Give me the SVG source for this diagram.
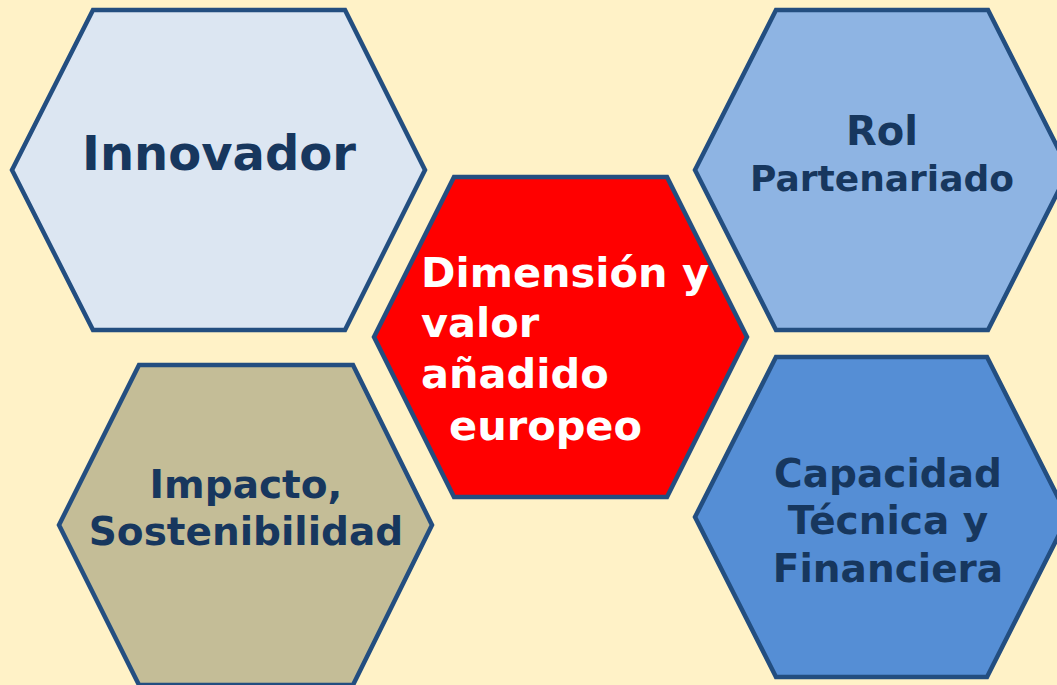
<svg xmlns="http://www.w3.org/2000/svg" width="1057" height="685" viewBox="0 0 1057 685">
<style>
.hex{stroke:#234E80;stroke-width:4.5;stroke-linejoin:miter}
.t{font-family:"DejaVu Sans","Verdana",sans-serif;font-weight:bold;fill:#17375E;text-anchor:middle}
.w{font-family:"DejaVu Sans","Verdana",sans-serif;font-weight:bold;fill:#FFFFFF}
</style>
<rect width="1057" height="685" fill="#FFF2C7"/>
<g id="innovador">
<polygon class="hex" fill="#DCE6F2" points="12,170 93,10 345,10 425,170 345,330 93,330"/>
<text class="t" x="219" y="170" font-size="48">Innovador</text>
</g>
<g id="rol">
<polygon class="hex" fill="#8EB4E3" points="695,170 776,10 988,10 1069,170 988,330 776,330"/>
<text class="t" x="882" y="145" font-size="40">Rol</text>
<text class="t" x="882" y="191" font-size="36">Partenariado</text>
</g>
<g id="dimension">
<polygon class="hex" fill="#FF0000" points="374,337 454,177 667,177 747,337 667,497 454,497"/>
<text class="w" font-size="41.5"><tspan x="421" y="287">Dimensión y</tspan><tspan x="421" y="337">valor</tspan><tspan x="421" y="388">añadido</tspan><tspan x="449" y="440">europeo</tspan></text>
</g>
<g id="impacto">
<polygon class="hex" fill="#C4BD97" points="59,525 139,365 353,365 432,525 353,685 139,685"/>
<text class="t" x="246" y="498" font-size="39">Impacto,</text>
<text class="t" x="246" y="545" font-size="39">Sostenibilidad</text>
</g>
<g id="capacidad">
<polygon class="hex" fill="#558ED5" points="695,517 776,357 987,357 1068,517 987,677 776,677"/>
<text class="t" x="888" y="487" font-size="39">Capacidad</text>
<text class="t" x="888" y="534" font-size="39">Técnica y</text>
<text class="t" x="888" y="582" font-size="39">Financiera</text>
</g>
<g id="connectors"></g>
</svg>
